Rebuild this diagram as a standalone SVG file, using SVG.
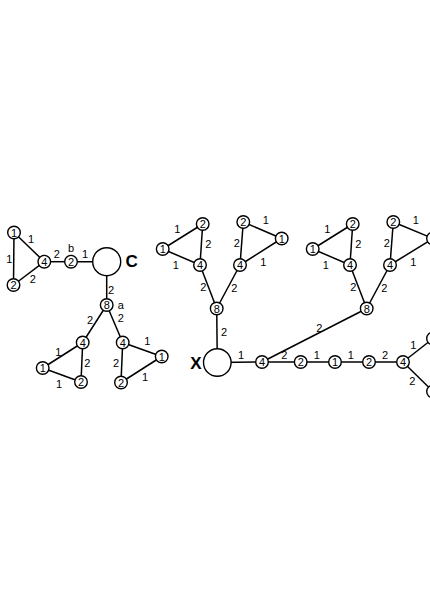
<svg xmlns="http://www.w3.org/2000/svg" width="430" height="608" viewBox="0 0 430 608">
<style>
.e{stroke:#000;stroke-width:1.5;fill:none}
.n circle{fill:#fff;stroke:#000;stroke-width:1.4}
.n text{font-family:"Liberation Sans",Arial,sans-serif;font-size:11px;text-anchor:middle;dominant-baseline:central;fill:#000}
.l text{font-family:"Liberation Sans",Arial,sans-serif;font-size:11px;text-anchor:middle;dominant-baseline:central;fill:#000}
.big{font-family:"Liberation Sans",Arial,sans-serif;font-size:17px;font-weight:bold;text-anchor:middle;dominant-baseline:central;fill:#000}
</style>
<rect width="430" height="608" fill="#fff"/>
<g id="connectors" class="e">
<line x1="14" y1="232.5" x2="13.5" y2="285"/>
<line x1="14" y1="232.5" x2="44.3" y2="261.7"/>
<line x1="13.5" y1="285" x2="44.3" y2="261.7"/>
<line x1="44.3" y1="261.7" x2="71" y2="261.7"/>
<line x1="71" y1="261.7" x2="106.7" y2="261.7"/>
<line x1="106.7" y1="261.7" x2="106.7" y2="305"/>
<line x1="106.7" y1="305" x2="82.7" y2="342.5"/>
<line x1="106.7" y1="305" x2="122.7" y2="342.5"/>
<line x1="82.7" y1="342.5" x2="42.7" y2="368"/>
<line x1="82.7" y1="342.5" x2="81" y2="382"/>
<line x1="42.7" y1="368" x2="81" y2="382"/>
<line x1="122.7" y1="342.5" x2="161.7" y2="356.5"/>
<line x1="122.7" y1="342.5" x2="121" y2="382.5"/>
<line x1="161.7" y1="356.5" x2="121" y2="382.5"/>
<line x1="202.7" y1="224" x2="162.7" y2="249"/>
<line x1="202.7" y1="224" x2="200" y2="265"/>
<line x1="162.7" y1="249" x2="200" y2="265"/>
<line x1="243.3" y1="222" x2="281.7" y2="238.5"/>
<line x1="243.3" y1="222" x2="240" y2="265"/>
<line x1="281.7" y1="238.5" x2="240" y2="265"/>
<line x1="200" y1="265" x2="216.7" y2="308.5"/>
<line x1="240" y1="265" x2="216.7" y2="308.5"/>
<line x1="216.7" y1="308.5" x2="217.3" y2="362.5"/>
<line x1="352.7" y1="224" x2="312.7" y2="249"/>
<line x1="352.7" y1="224" x2="350" y2="265"/>
<line x1="312.7" y1="249" x2="350" y2="265"/>
<line x1="393.3" y1="222" x2="433" y2="238.5"/>
<line x1="393.3" y1="222" x2="390" y2="265"/>
<line x1="433" y1="238.5" x2="390" y2="265"/>
<line x1="350" y1="265" x2="366.7" y2="308.5"/>
<line x1="390" y1="265" x2="366.7" y2="308.5"/>
<line x1="217.3" y1="362.5" x2="262" y2="362"/>
<line x1="262" y1="362" x2="366.7" y2="308.5"/>
<line x1="262" y1="362" x2="403" y2="362"/>
<line x1="403" y1="362" x2="433" y2="338.5"/>
<line x1="403" y1="362" x2="433" y2="391.5"/>
</g>
<g id="C" class="n"><circle cx="106.7" cy="261.7" r="14"/></g>
<g id="X" class="n"><circle cx="217.3" cy="362.5" r="13.8"/></g>
<g id="L1" class="n"><circle cx="14" cy="232.5" r="6.3"/><text x="14" y="232.5">1</text></g>
<g id="L2" class="n"><circle cx="13.5" cy="285" r="6.3"/><text x="13.5" y="285">2</text></g>
<g id="L3" class="n"><circle cx="44.3" cy="261.7" r="6.3"/><text x="44.3" y="261.7">4</text></g>
<g id="L4" class="n"><circle cx="71" cy="261.7" r="6.3"/><text x="71" y="261.7">2</text></g>
<g id="L5" class="n"><circle cx="106.7" cy="305" r="6.3"/><text x="106.7" y="305">8</text></g>
<g id="L6" class="n"><circle cx="82.7" cy="342.5" r="6.3"/><text x="82.7" y="342.5">4</text></g>
<g id="L7" class="n"><circle cx="42.7" cy="368" r="6.3"/><text x="42.7" y="368">1</text></g>
<g id="L8" class="n"><circle cx="81" cy="382" r="6.3"/><text x="81" y="382">2</text></g>
<g id="L9" class="n"><circle cx="122.7" cy="342.5" r="6.3"/><text x="122.7" y="342.5">4</text></g>
<g id="L10" class="n"><circle cx="161.7" cy="356.5" r="6.3"/><text x="161.7" y="356.5">1</text></g>
<g id="L11" class="n"><circle cx="121" cy="382.5" r="6.3"/><text x="121" y="382.5">2</text></g>
<g id="M1" class="n"><circle cx="202.7" cy="224" r="6.3"/><text x="202.7" y="224">2</text></g>
<g id="M2" class="n"><circle cx="162.7" cy="249" r="6.3"/><text x="162.7" y="249">1</text></g>
<g id="M3" class="n"><circle cx="200" cy="265" r="6.3"/><text x="200" y="265">4</text></g>
<g id="M4" class="n"><circle cx="243.3" cy="222" r="6.3"/><text x="243.3" y="222">2</text></g>
<g id="M5" class="n"><circle cx="281.7" cy="238.5" r="6.3"/><text x="281.7" y="238.5">1</text></g>
<g id="M6" class="n"><circle cx="240" cy="265" r="6.3"/><text x="240" y="265">4</text></g>
<g id="M7" class="n"><circle cx="216.7" cy="308.5" r="6.3"/><text x="216.7" y="308.5">8</text></g>
<g id="R1" class="n"><circle cx="352.7" cy="224" r="6.3"/><text x="352.7" y="224">2</text></g>
<g id="R2" class="n"><circle cx="312.7" cy="249" r="6.3"/><text x="312.7" y="249">1</text></g>
<g id="R3" class="n"><circle cx="350" cy="265" r="6.3"/><text x="350" y="265">4</text></g>
<g id="R4" class="n"><circle cx="393.3" cy="222" r="6.3"/><text x="393.3" y="222">2</text></g>
<g id="R5" class="n"><circle cx="433" cy="238.5" r="6.3"/></g>
<g id="R6" class="n"><circle cx="390" cy="265" r="6.3"/><text x="390" y="265">4</text></g>
<g id="R7" class="n"><circle cx="366.7" cy="308.5" r="6.3"/><text x="366.7" y="308.5">8</text></g>
<g id="K1" class="n"><circle cx="262" cy="362" r="6.3"/><text x="262" y="362">4</text></g>
<g id="K2" class="n"><circle cx="300.7" cy="362" r="6.3"/><text x="300.7" y="362">2</text></g>
<g id="K3" class="n"><circle cx="335" cy="362" r="6.3"/><text x="335" y="362">1</text></g>
<g id="K4" class="n"><circle cx="369" cy="362" r="6.3"/><text x="369" y="362">2</text></g>
<g id="K5" class="n"><circle cx="403" cy="362" r="6.3"/><text x="403" y="362">4</text></g>
<g id="K6" class="n"><circle cx="433" cy="338.5" r="6.3"/></g>
<g id="K7" class="n"><circle cx="433" cy="391.5" r="6.3"/></g>
<text class="big" x="131.7" y="261.7">C</text>
<text class="big" x="196" y="363.3">X</text>
<g id="labels" class="l">
<text x="31" y="239.3">1</text>
<text x="9.3" y="259.3">1</text>
<text x="32.7" y="279.3">2</text>
<text x="56.7" y="253.5">2</text>
<text x="71" y="248">b</text>
<text x="85" y="254">1</text>
<text x="111" y="290">2</text>
<text x="120.7" y="304.5">a</text>
<text x="90" y="320">2</text>
<text x="120.7" y="318.3">2</text>
<text x="58.3" y="351.5">1</text>
<text x="87.3" y="363">2</text>
<text x="59" y="384">1</text>
<text x="147.3" y="340.7">1</text>
<text x="116" y="363">2</text>
<text x="145" y="377.3">1</text>
<text x="177.3" y="229">1</text>
<text x="208.3" y="244">2</text>
<text x="175.7" y="265">1</text>
<text x="203.3" y="287">2</text>
<text x="234.3" y="287.7">2</text>
<text x="236.7" y="243.3">2</text>
<text x="265.7" y="220">1</text>
<text x="263.3" y="261.7">1</text>
<text x="327.3" y="229">1</text>
<text x="358.3" y="244">2</text>
<text x="325.7" y="265">1</text>
<text x="353.3" y="287">2</text>
<text x="384.3" y="287.7">2</text>
<text x="386.7" y="243.3">2</text>
<text x="415.7" y="220">1</text>
<text x="413.3" y="261.7">1</text>
<text x="224" y="331.7">2</text>
<text x="241" y="355">1</text>
<text x="284.3" y="355">2</text>
<text x="319.3" y="327.7">2</text>
<text x="316.7" y="355">1</text>
<text x="350.7" y="355">1</text>
<text x="385" y="355">2</text>
<text x="413.3" y="345">1</text>
<text x="412.3" y="381">2</text>
</g>
</svg>
